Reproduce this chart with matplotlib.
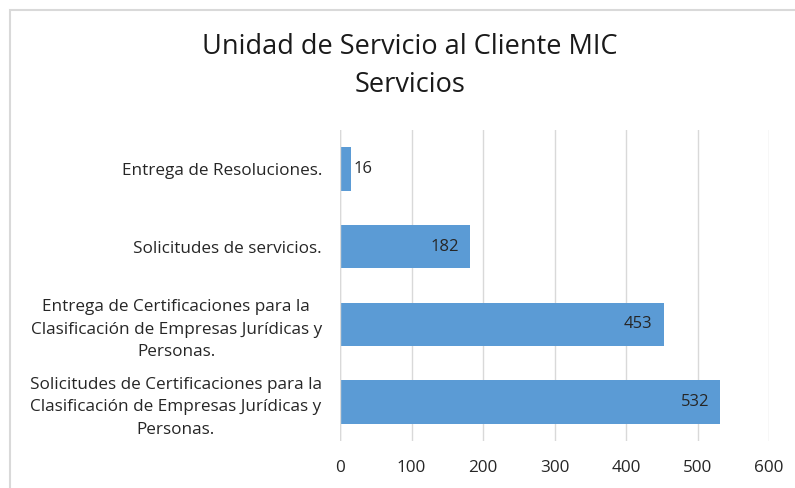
import matplotlib.pyplot as plt
from matplotlib.patches import Rectangle

categorias = [
    "Solicitudes de Certificaciones para la\nClasificación de Empresas Jurídicas y\nPersonas.",
    "Entrega de Certificaciones para la\nClasificación de Empresas Jurídicas y\nPersonas.",
    "Solicitudes de servicios.",
    "Entrega de Resoluciones.",
]
valores = [532, 453, 182, 16]
ticks_x = [0, 100, 200, 300, 400, 500, 600]

plt.rcParams['font.family'] = ['Open Sans', 'DejaVu Sans']

fig = plt.figure(figsize=(7.95, 4.88), dpi=100)
ax = fig.add_axes([340/795, 1-441/488, (769-340)/795, (441-130)/488])

# marco del grafico
fig.patches.append(Rectangle((10/795, -0.05), 1.0, 1-10/488+0.05, transform=fig.transFigure,
                             fill=False, edgecolor='#d9d9d9', linewidth=1.5))

pos = range(len(categorias))
barras = ax.barh(pos, valores, height=0.56, color='#5b9bd5')
ax.set_ylim(-0.5, len(categorias)-0.5)
ax.set_xlim(0, 600)
ax.set_xticks(ticks_x)
ax.set_yticks(list(pos))
ax.set_yticklabels(categorias, fontsize=12.3, color='#262626', linespacing=1.55,
                   multialignment='center')
ax.tick_params(axis='both', length=0, labelsize=12.3, colors='#262626')
ax.tick_params(axis='y', pad=13)
ax.tick_params(axis='x', pad=14)
ax.grid(axis='x', color='#d9d9d9', linewidth=1)
ax.set_axisbelow(True)
for s in ['top', 'right', 'bottom', 'left']:
    ax.spines[s].set_visible(False)
ax.axvline(0, color='#d9d9d9', linewidth=1)

for b, v in zip(barras, valores):
    if v < 50:
        ax.text(v + 3, b.get_y() + b.get_height()/2, str(v), va='center', ha='left',
                fontsize=12, color='#262626')
    else:
        ax.text(v - 16, b.get_y() + b.get_height()/2, str(v), va='center', ha='right',
                fontsize=12, color='#262626')

fig.text(410/795, 1-47/488, "Unidad de Servicio al Cliente MIC", ha='center', va='center',
         fontsize=19.5, color='#1a1a1a')
fig.text(410/795, 1-85/488, "Servicios", ha='center', va='center',
         fontsize=19.5, color='#1a1a1a')

fig.savefig('out.png', dpi=100)
